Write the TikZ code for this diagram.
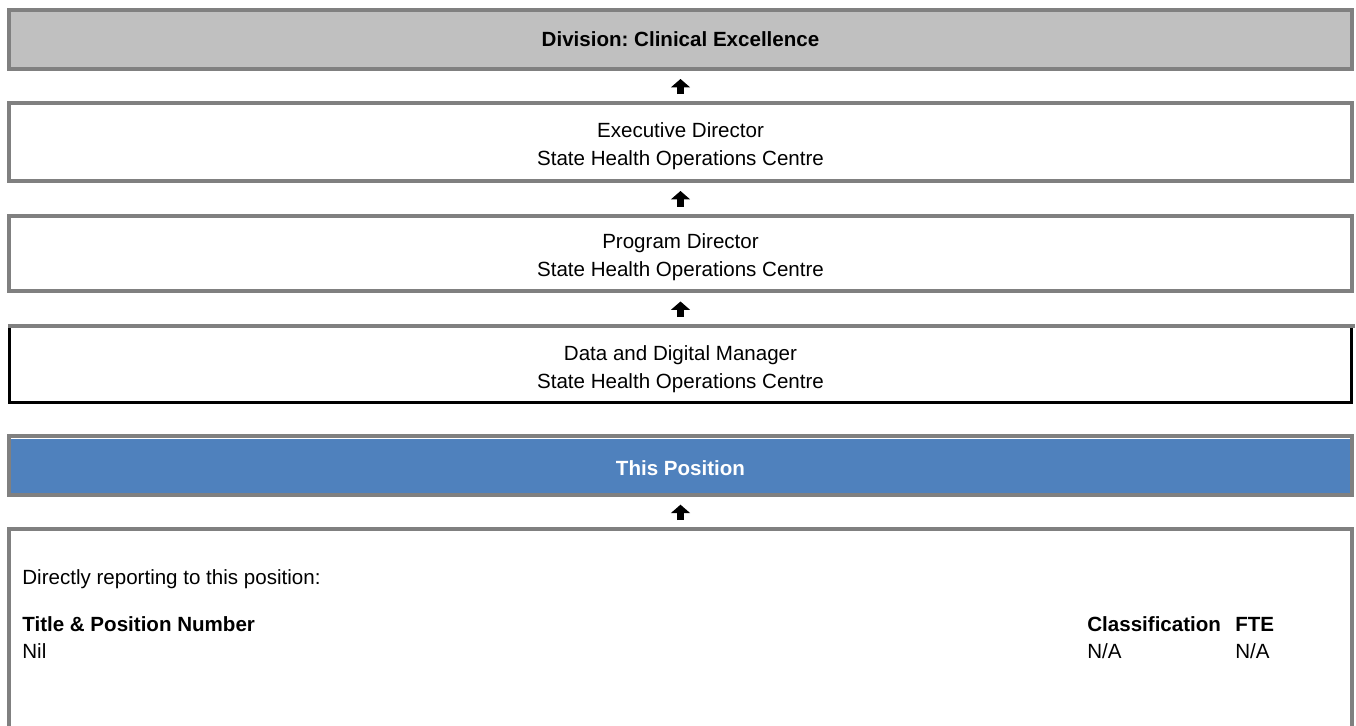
\documentclass[tikz,border=0pt]{standalone}
\usepackage{fontspec}
\setmainfont{Liberation Sans}
\usetikzlibrary{arrows.meta, positioning}
\definecolor{boxgray}{HTML}{808080}
\definecolor{divfill}{HTML}{C0C0C0}
\definecolor{posblue}{HTML}{4F81BD}
\frenchspacing
\newcommand{\toplift}[1]{\rule{0pt}{#1}}

\begin{document}
\begin{tikzpicture}[x=0.02cm, y=-0.02cm,
    box/.style={draw=boxgray, line width=0.08cm, minimum width=26.86cm,
      inner sep=0pt, outer sep=0pt, align=center,
      font=\fontsize{11.7}{15.9}\selectfont},
    upArrow/.style={-{Triangle[width=0.38cm, length=0.17cm]}, line width=0.14cm,
      shorten <=0.18cm, shorten >=0.2cm},
    txt/.style={anchor=base west, inner sep=0pt, font=\fontsize{11.7}{14}\selectfont}]
  \useasboundingbox (0,0) rectangle (1356,726);
  \clip (0,0) rectangle (1356,726);

  % chain of boxes
  \node (div) [box, fill=divfill, minimum height=1.18cm] at (680.5,39.5)
    {\bfseries Division: Clinical Excellence};
  \node (exec) [box, minimum height=1.56cm] at (680.5,142)
    {\toplift{0.456cm}Executive Director\\State Health Operations Centre};
  \node (prog) [box, minimum height=1.52cm] at (680.5,253.5)
    {\toplift{0.456cm}Program Director\\State Health Operations Centre};
  \node (data) [box, draw=black, line width=0.06cm, minimum width=26.84cm,
    minimum height=1.53cm] at (680.5,364.25)
    {\toplift{0.496cm}Data and Digital Manager\\State Health Operations Centre};
  \draw [boxgray, line width=0.08cm]
    ([xshift=-0.03cm]data.north west) -- ([xshift=0.07cm]data.north east);
  \node (pos) [box, fill=posblue, text=white, minimum height=1.174cm] at (680.5,465.35)
    {\toplift{0.416cm}\bfseries This Position};
  \draw [white, line width=0.03cm]
    ([xshift=0.04cm, yshift=-0.05cm]pos.north west) -- ([xshift=-0.04cm, yshift=-0.05cm]pos.north east);
  \node (reports) [box, minimum height=5.42cm] at (680.5,664.5) {};

  \path [upArrow]
    (exec.north) edge (div.south)
    (prog.north) edge (exec.south)
    (data.north) edge (prog.south)
    (reports.north) edge (pos.south);

  % reporting table
  \node (direct) [txt] at (22,584.5) {Directly reporting to this position:};
  \node (titlehd) [txt] at (22,631.5) {\bfseries Title \& Position Number};
  \node (nil) [txt] at (22,658.5) {Nil};
  \node (classhd) [txt] at (1087,631.5) {\bfseries Classification};
  \node (ftehd) [txt] at (1235,631.5) {\bfseries FTE};
  \node (classval) [txt] at (classhd.base west |- nil.base) {N/A};
  \node (fteval) [txt] at (ftehd.base west |- nil.base) {N/A};
\end{tikzpicture}
\end{document}
